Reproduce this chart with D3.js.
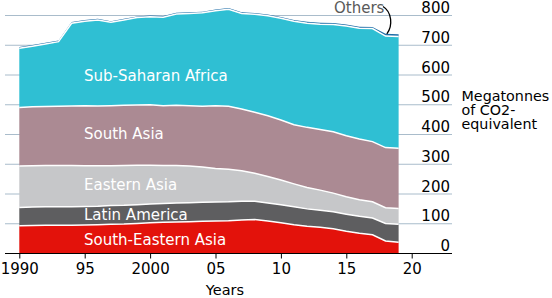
<!DOCTYPE html>
<html><head><meta charset="utf-8">
<script src="https://cdn.jsdelivr.net/npm/d3@7"></script>
<style>body{margin:0;background:#fff} svg{display:block} text{font-family:"DejaVu Sans",sans-serif}</style>
</head><body><svg id="c" width="552" height="298"></svg>
<script>
const years = [1990,1991,1992,1993,1994,1995,1996,1997,1998,1999,2000,2001,2002,2003,2004,2005,2006,2007,2008,2009,2010,2011,2012,2013,2014,2015,2016,2017,2018,2019];
const southEasternAsia = [93,94,95,95,95,96,97,98,99,101,103,105,106,107,108,109,110,113,114,109,103,97,92,88,83,75,68,63,42,38];
const latinAmerica = [62,62,62,62,62,62,62,63,63,63,63,63,64,64,64,64,64,63,62,61,61,60,58,57,57,57,57,56,59,60];
const easternAsia = [139,139,139,139,139,137,136,134,134,133,131,128,126,123,119,113,109,102,94,89,83,77,72,68,63,59,56,55,53,53];
const southAsia = [197,198,198,199,200,202,201,202,202,202,203,201,202,203,204,211,212,208,205,204,202,199,202,204,206,205,204,202,202,203];
const subSaharanAfrica = [199,204,210,217,278,284,289,280,287,294,296,297,307,310,314,319,326,321,329,336,342,348,350,354,361,369,372,380,375,375];
const others = [4,4,4,4,4,4,4,4,4,4,4,4,4,4,4,4,4,4,4,4,4,4,5,5,5,5,5,5,8,8];
const yTicks = [0,100,200,300,400,500,600,700,800];
const xTicks = [1990,1995,2000,2005,2010,2015,2020];
const xTickLabels = ["1990","95","2000","05","10","15","20"];
const seriesNames = ["South-Eastern Asia","Latin America","Eastern Asia","South Asia","Sub-Saharan Africa","Others"];
const seriesValues = [southEasternAsia, latinAmerica, easternAsia, southAsia, subSaharanAfrica, others];
const colors = ["#e3120b","#5e5e60","#c6c7c9","#ab8a93","#2fbfd3","#1f6ea8"];
const yTitle = ["Megatonnes","of CO2-","equivalent"];

const rows = years.map((yr,i)=>{const o={year:yr}; seriesNames.forEach((n,k)=>o[n]=seriesValues[k][i]); return o;});
const svg = d3.select("#c");
const x = d3.scaleLinear().domain([1990,2020]).range([19.3,411.7]);
const y = d3.scaleLinear().domain([0,800]).range([253.5,15.5]);
const FS = 15;

// gridlines
svg.append("g").selectAll("line").data(yTicks.filter(v=>v>0)).join("line")
  .attr("x1",5).attr("x2",452).attr("y1",d=>y(d)).attr("y2",d=>y(d))
  .attr("stroke","#a9bccb").attr("stroke-width",1);

const layers = d3.stack().keys(seriesNames)(rows);
const area = d3.area().x(d=>x(d.data.year)).y0(d=>y(d[0])).y1(d=>y(d[1]));
svg.append("g").selectAll("path").data(layers).join("path")
  .attr("d",area).attr("fill",(d,i)=>colors[i]);
const line = d3.line().x(d=>x(d.data.year)).y(d=>y(d[1]));
svg.append("g").selectAll("path").data(layers.slice(0,5)).join("path")
  .attr("d",line).attr("fill","none").attr("stroke","#fff").attr("stroke-width",1.5);

// y tick labels
svg.append("g").selectAll("text").data(yTicks).join("text")
  .attr("x",450).attr("y",d=>y(d)-2.5).attr("text-anchor","end")
  .attr("font-size",FS).attr("fill","#000").text(d=>d);

// x axis
const xa = svg.append("g").attr("transform",`translate(0,${y(0)})`)
  .call(d3.axisBottom(x).tickValues(xTicks).tickFormat((d,i)=>xTickLabels[i]).tickSize(5).tickSizeOuter(0));
xa.select(".domain").remove();
xa.selectAll("text").attr("font-size",FS).attr("font-family","DejaVu Sans").attr("fill","#000").attr("dy",null).attr("y",20.8);
xa.selectAll("line").attr("stroke","#000");
svg.append("line").attr("x1",5).attr("x2",452).attr("y1",y(0)).attr("y2",y(0)).attr("stroke","#000").attr("stroke-width",1);

svg.append("text").attr("x",225).attr("y",294.5).attr("text-anchor","middle").attr("font-size",14.5).text("Years");

// y axis title
yTitle.forEach((t,i)=>svg.append("text").attr("x",461.5).attr("y",101+i*14.2).attr("font-size",14.3).text(t));

// area labels
const labelPos = [[84,245],[84,220],[84,190],[84,139.3],[84,81]];
labelPos.forEach((p,i)=>{
  svg.append("text").attr("x",p[0]).attr("y",p[1]).attr("font-size",FS).attr("fill","#fff").text(seriesNames[i]);
});

// Others annotation
svg.append("text").attr("x",334).attr("y",12.5).attr("font-size",FS).attr("fill","#5a5a5a").text("Others");
const last = layers[5];
const ai = years.indexOf(2018);
const ax = x(2018.1), ay = y((last[ai][0]+last[ai][1])/2)-1;
const p = d3.path();
p.moveTo(383,6.5);
p.bezierCurveTo(392,12,393,26,ax,ay);
svg.append("path").attr("d",p.toString()).attr("fill","none").attr("stroke","#000").attr("stroke-width",1.3);
</script></body></html>
